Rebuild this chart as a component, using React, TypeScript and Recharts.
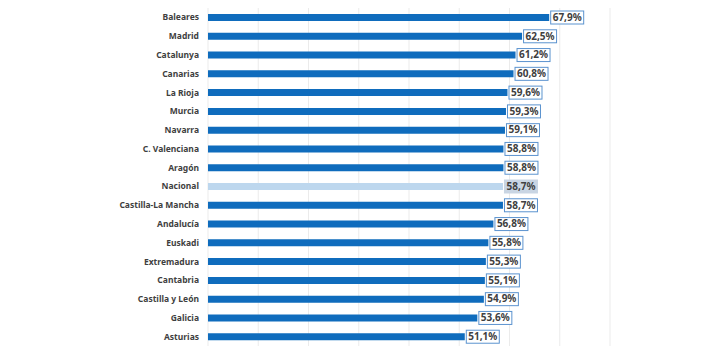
import { BarChart, Bar, XAxis, YAxis, CartesianGrid, Cell, LabelList } from "recharts";

const regions = [
  "Baleares", "Madrid", "Catalunya", "Canarias", "La Rioja", "Murcia", "Navarra",
  "C. Valenciana", "Aragón", "Nacional", "Castilla-La Mancha", "Andalucía", "Euskadi",
  "Extremadura", "Cantabria", "Castilla y León", "Galicia", "Asturias",
];
const values = [67.9, 62.5, 61.2, 60.8, 59.6, 59.3, 59.1, 58.8, 58.8, 58.7, 58.7, 56.8, 55.8, 55.3, 55.1, 54.9, 53.6, 51.1];
const xTicks = [0, 10, 20, 30, 40, 50, 60, 70, 80];

const data = regions.map((name, i) => ({ name, value: values[i] }));

const BLUE = "#0f6cbd";
const LIGHT = "#bdd7ee";
const FONT = "'Noto Sans', 'Liberation Sans', sans-serif";

const fmt = (v: number) => v.toFixed(1).replace(".", ",") + "%";

const ValueLabel = (props: any) => {
  const { x, y, width, height, value, index } = props;
  const isNat = regions[index] === "Nacional";
  const text = fmt(value);
  const w = 33;
  const h = 13;
  const bx = x + width + 1.5;
  const by = y + height / 2 - h / 2;
  return (
    <g>
      <rect
        x={bx}
        y={by}
        width={w}
        height={h}
        fill={isNat ? "#c9d5e3" : "#ffffff"}
        stroke={isNat ? "#c9d5e3" : "#5b93cf"}
        strokeWidth={1}
      />
      <text
        x={bx + w / 2}
        y={by + h / 2 + 0.5}
        textAnchor="middle"
        dominantBaseline="middle"
        fontSize={10}
        fontWeight="bold"
        fill="#404040"
        fontFamily={FONT}
      >
        {text}
      </text>
    </g>
  );
};

const App = () => {
  return (
    <div style={{ position: "absolute", left: 0, top: 0, width: 710, height: 355, background: "#fff" }}>
      <BarChart
        width={710}
        height={355}
        data={data}
        layout="vertical"
        margin={{ top: 8, right: 100, bottom: 9, left: 0 }}
      >
        <CartesianGrid horizontal={false} stroke="#ebebeb" />
        <XAxis type="number" domain={[0, 80]} ticks={xTicks} hide />
        <YAxis
          type="category"
          dataKey="name"
          width={208}
          axisLine={false}
          tickLine={false}
          tickMargin={3}
          interval={0}
          tick={{ fontSize: 8.5, fontWeight: "bold", fill: "#3f3f3f", fontFamily: FONT }}
        />
        <Bar dataKey="value" barSize={7} isAnimationActive={false}>
          {data.map((d) => (
            <Cell key={d.name} fill={d.name === "Nacional" ? LIGHT : BLUE} />
          ))}
          <LabelList dataKey="value" content={<ValueLabel />} />
        </Bar>
      </BarChart>
    </div>
  );
};

export default App;
